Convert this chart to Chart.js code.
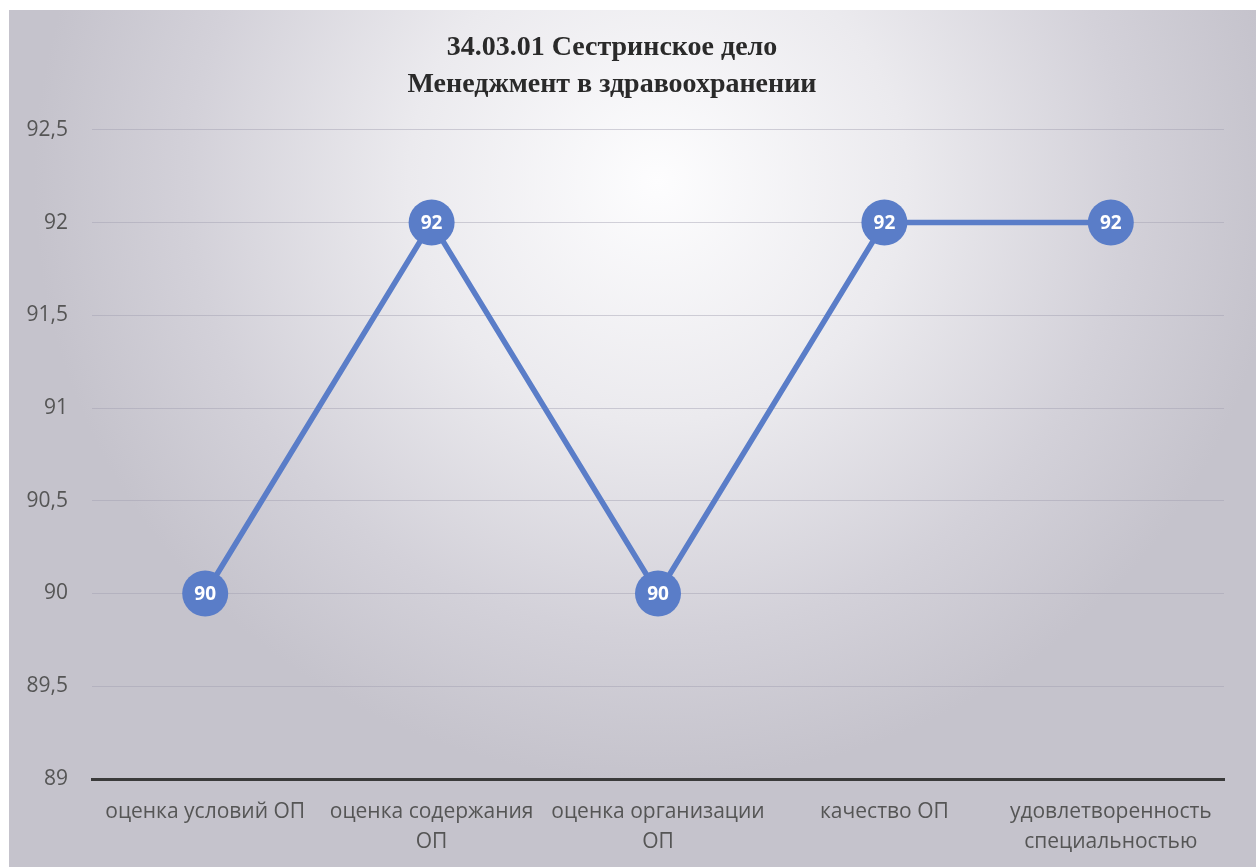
<!DOCTYPE html>
<html>
<head>
<meta charset="utf-8">
<script src="https://cdn.jsdelivr.net/npm/chart.js@4"></script>
<style>
  html, body { margin: 0; padding: 0; background: #fff; }
  #bg {
    position: absolute; left: 9px; top: 10px; width: 1247px; height: 857px;
    background: radial-gradient(ellipse 50% 70% at 52% 20%, #fdfdfe 0%, #ebeaee 40%, #d3d1d9 75%, #c5c3cc 100%);
  }
  #wrap { position: absolute; left: 0; top: 0; width: 1256px; height: 867px; }
</style>
</head>
<body>
<div id="bg"></div>
<div id="wrap"><canvas id="lineChart" width="1256" height="867"></canvas></div>
<script>
const categories = [
    ["оценка условий ОП"],
    ["оценка содержания", "ОП"],
    ["оценка организации", "ОП"],
    ["качество ОП"],
    ["удовлетворенность", "специальностью"]
];
const scores = [90, 92, 90, 92, 92];
const titleLines = ["34.03.01 Сестринское дело", "Менеджмент в здравоохранении"];

const lineBlue = "#5a7dc8";

// white numbers inside the markers
const pointLabels = {
    id: "pointLabels",
    afterDatasetsDraw(chart) {
        const ctx = chart.ctx;
        const meta = chart.getDatasetMeta(0);
        ctx.save();
        ctx.fillStyle = "#ffffff";
        ctx.font = "bold 19px 'Open Sans', sans-serif";
        ctx.textAlign = "center";
        ctx.textBaseline = "middle";
        meta.data.forEach((pt, i) => {
            ctx.fillText(String(chart.data.datasets[0].data[i]), pt.x, pt.y + 1);
        });
        ctx.restore();
    }
};

new Chart(document.getElementById("lineChart"), {
    type: "line",
    data: {
        labels: categories,
        datasets: [{
            data: scores,
            borderColor: lineBlue,
            backgroundColor: lineBlue,
            borderWidth: 5.5,
            pointRadius: 23,
            pointHoverRadius: 23,
            pointBorderWidth: 0,
            tension: 0
        }]
    },
    options: {
        responsive: false,
        animation: false,
        layout: { padding: { left: 0, right: 32, top: 12, bottom: 0 } },
        plugins: {
            legend: { display: false },
            tooltip: { enabled: false },
            title: {
                display: true,
                text: titleLines,
                color: "#2a2a2a",
                font: { family: "'Liberation Serif', serif", size: 28, weight: "bold", lineHeight: 1.3 },
                padding: { top: 18, bottom: 27 }
            }
        },
        scales: {
            x: {
                offset: true,
                grid: { display: false, drawTicks: false },
                border: { display: true, color: "#3a3a3a", width: 3 },
                ticks: {
                    color: "#555555",
                    font: { family: "'Open Sans', sans-serif", size: 21, lineHeight: 1.43 },
                    padding: 18,
                    maxRotation: 0,
                    autoSkip: false
                },
                afterFit(scale) { scale.height = 88; }
            },
            y: {
                min: 89,
                max: 92.5,
                grid: { color: "rgba(160,158,175,0.45)", lineWidth: 1, drawTicks: false },
                border: { display: false },
                ticks: {
                    stepSize: 0.5,
                    color: "#555555",
                    font: { family: "'Open Sans', sans-serif", size: 21 },
                    padding: 24,
                    callback: v => String(v).replace(".", ",")
                },
                afterFit(scale) { scale.width = 92; }
            }
        }
    },
    plugins: [pointLabels]
});
</script>
</body>
</html>
